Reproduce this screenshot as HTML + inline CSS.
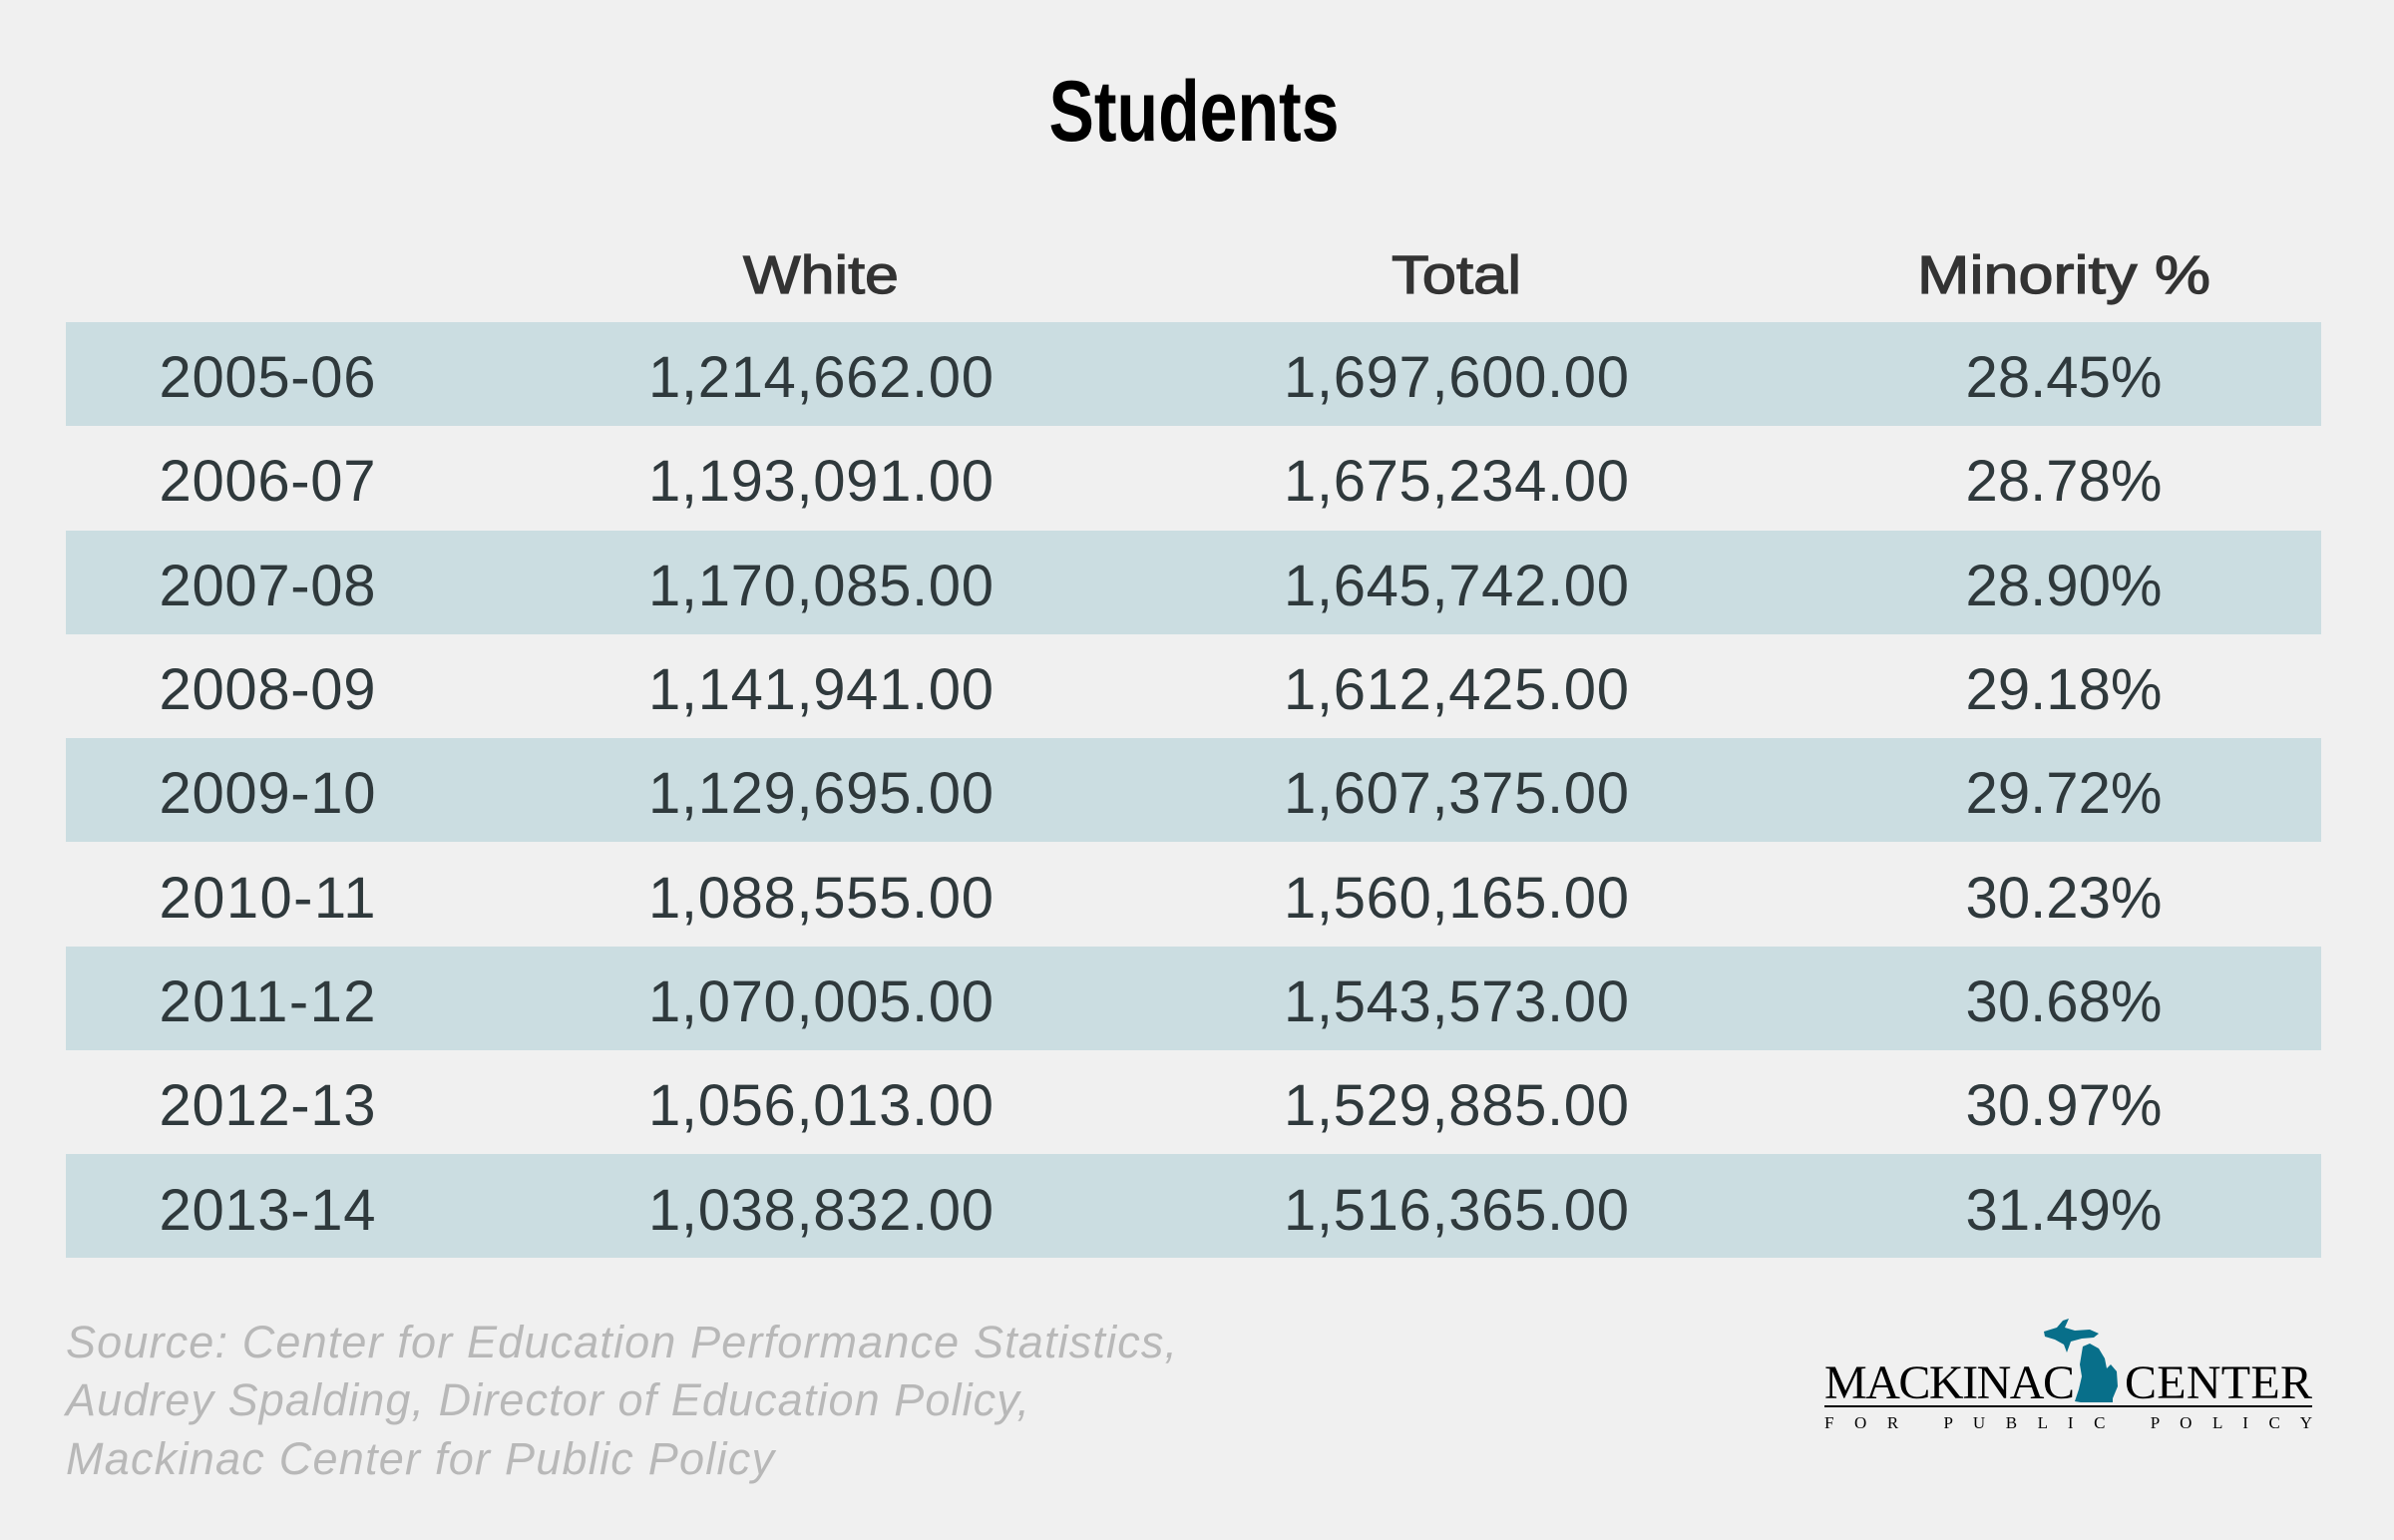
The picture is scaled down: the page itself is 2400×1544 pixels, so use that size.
<!DOCTYPE html>
<html><head><style>html,body{margin:0;padding:0;background:#f0f0f0}svg{display:block}</style></head>
<body>
<svg width="2400" height="1544" viewBox="0 0 2400 1544" xmlns="http://www.w3.org/2000/svg">
<rect width="2400" height="1544" fill="#f0f0f0"/>
<text x="1197" y="141" text-anchor="middle" font-family="Liberation Sans Narrow, Liberation Sans, sans-serif" font-weight="bold" font-size="86" textLength="291" lengthAdjust="spacingAndGlyphs" fill="#000">Students</text>
<g font-family="Liberation Sans, sans-serif" font-size="54" fill="#333" stroke="#333" stroke-width="1.2" text-anchor="middle">
<text x="823" y="294" textLength="156" lengthAdjust="spacingAndGlyphs">White</text>
<text x="1460" y="294" textLength="130" lengthAdjust="spacingAndGlyphs">Total</text>
<text x="2069" y="294" textLength="294" lengthAdjust="spacingAndGlyphs">Minority %</text>
</g>
<g fill="#cbdde1">
<rect x="66" y="323" width="2261" height="104"/>
<rect x="66" y="532" width="2261" height="104"/>
<rect x="66" y="740" width="2261" height="104"/>
<rect x="66" y="949" width="2261" height="104"/>
<rect x="66" y="1157" width="2261" height="104"/>
</g>
<g font-family="Liberation Sans, sans-serif" font-size="58" fill="#2f393c" text-anchor="middle" lengthAdjust="spacingAndGlyphs">
<text x="268" y="398" textLength="217">2005-06</text><text x="823" y="398" textLength="346">1,214,662.00</text><text x="1460" y="398" textLength="346">1,697,600.00</text><text x="2069" y="398" textLength="197">28.45%</text>
<text x="268" y="502" textLength="217">2006-07</text><text x="823" y="502" textLength="346">1,193,091.00</text><text x="1460" y="502" textLength="346">1,675,234.00</text><text x="2069" y="502" textLength="197">28.78%</text>
<text x="268" y="607" textLength="217">2007-08</text><text x="823" y="607" textLength="346">1,170,085.00</text><text x="1460" y="607" textLength="346">1,645,742.00</text><text x="2069" y="607" textLength="197">28.90%</text>
<text x="268" y="711" textLength="217">2008-09</text><text x="823" y="711" textLength="346">1,141,941.00</text><text x="1460" y="711" textLength="346">1,612,425.00</text><text x="2069" y="711" textLength="197">29.18%</text>
<text x="268" y="815" textLength="217">2009-10</text><text x="823" y="815" textLength="346">1,129,695.00</text><text x="1460" y="815" textLength="346">1,607,375.00</text><text x="2069" y="815" textLength="197">29.72%</text>
<text x="268" y="920" textLength="217">2010-11</text><text x="823" y="920" textLength="346">1,088,555.00</text><text x="1460" y="920" textLength="346">1,560,165.00</text><text x="2069" y="920" textLength="197">30.23%</text>
<text x="268" y="1024" textLength="217">2011-12</text><text x="823" y="1024" textLength="346">1,070,005.00</text><text x="1460" y="1024" textLength="346">1,543,573.00</text><text x="2069" y="1024" textLength="197">30.68%</text>
<text x="268" y="1128" textLength="217">2012-13</text><text x="823" y="1128" textLength="346">1,056,013.00</text><text x="1460" y="1128" textLength="346">1,529,885.00</text><text x="2069" y="1128" textLength="197">30.97%</text>
<text x="268" y="1233" textLength="217">2013-14</text><text x="823" y="1233" textLength="346">1,038,832.00</text><text x="1460" y="1233" textLength="346">1,516,365.00</text><text x="2069" y="1233" textLength="197">31.49%</text>
</g>
<g font-family="Liberation Sans, sans-serif" font-style="italic" font-size="45" fill="#b8b8b8" lengthAdjust="spacingAndGlyphs">
<text x="66" y="1361" textLength="1114">Source: Center for Education Performance Statistics,</text>
<text x="66" y="1419" textLength="966">Audrey Spalding, Director of Education Policy,</text>
<text x="66" y="1478" textLength="710">Mackinac Center for Public Policy</text>
</g>
<g font-family="Liberation Serif, serif" fill="#000" lengthAdjust="spacingAndGlyphs">
<text x="1829" y="1402" font-size="48" textLength="251">MACKINAC</text>
<text x="2130" y="1402" font-size="48" textLength="188">CENTER</text>
<rect x="1829" y="1409" width="489" height="2"/>
<text x="1829" y="1432" font-size="17" textLength="489">F O R &#160; P U B L I C &#160; P O L I C Y</text>
</g>
<path fill="#086f8a" d="M2049,1335 L2062,1331 L2068,1324 L2074,1322 L2070,1331 L2080,1334 L2095,1333 L2104,1337 L2099,1341 L2087,1342 L2076,1345 L2072,1356 L2069,1348 L2060,1343 L2050,1340 Z M2088,1350 L2095,1347 L2104,1352 L2110,1362 L2112,1372 L2116,1368 L2122,1375 L2123,1390 L2118,1402 L2118,1406 L2086,1406 L2080,1405 L2084,1393 L2087,1380 L2085,1368 Z"/>
</svg>
</body></html>
